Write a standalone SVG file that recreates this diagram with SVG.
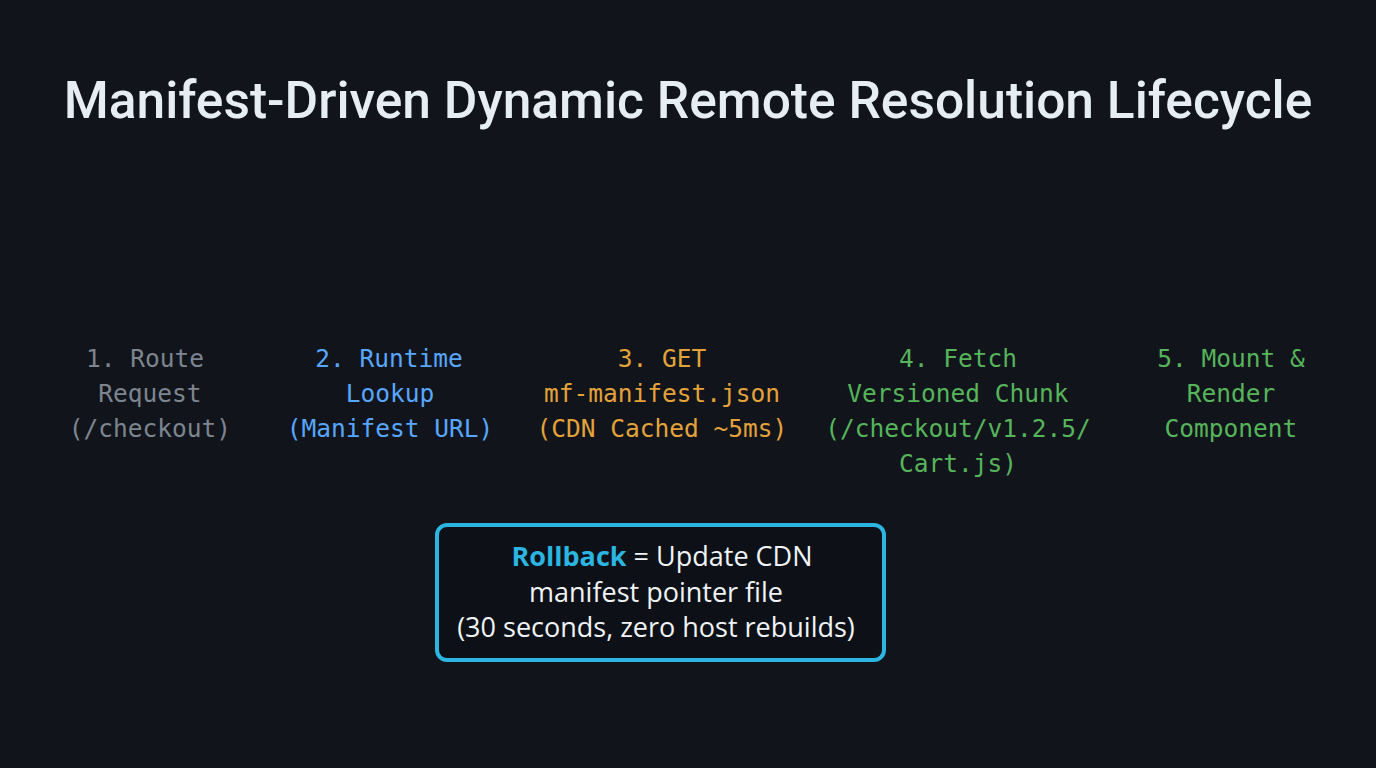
<svg xmlns="http://www.w3.org/2000/svg" width="1376" height="768" viewBox="0 0 1376 768">
<style>
.m{font-family:"DejaVu Sans Mono","Liberation Mono",monospace;font-size:24.5px;text-anchor:middle}
.s{font-family:"Open Sans","Liberation Sans",sans-serif;font-size:27px;text-anchor:middle;fill:#f0f3f6}
</style>
<rect width="1376" height="768" fill="#11151b"/>
<text x="688" y="118" font-family="Roboto,'Liberation Sans',sans-serif" font-size="51.5" font-weight="500" fill="#e6edf3" text-anchor="middle">Manifest-Driven Dynamic Remote Resolution Lifecycle</text>
<g id="step1" class="m" fill="#7d8590"><text x="145" y="367">1. Route</text><text x="150" y="402">Request</text><text x="150" y="437">(/checkout)</text></g>
<g id="step2" class="m" fill="#58a6ff"><text x="389" y="367">2. Runtime</text><text x="390" y="402">Lookup</text><text x="390" y="437">(Manifest URL)</text></g>
<g id="step3" class="m" fill="#e3a23a"><text x="662" y="367">3. GET</text><text x="662" y="402">mf-manifest.json</text><text x="662" y="437">(CDN Cached ~5ms)</text></g>
<g id="step4" class="m" fill="#56b45a"><text x="958" y="367">4. Fetch</text><text x="958" y="402">Versioned Chunk</text><text x="958" y="437">(/checkout/v1.2.5/</text><text x="958" y="472">Cart.js)</text></g>
<g id="step5" class="m" fill="#56b45a"><text x="1231" y="367">5. Mount &amp;</text><text x="1231" y="402">Render</text><text x="1231" y="437">Component</text></g>
<g id="connectors"></g>
<g id="rollback">
<rect x="437" y="525" width="447" height="135" rx="10" fill="#0d1117" stroke="#2bb5e0" stroke-width="4"/>
<text class="s" x="662" y="566" font-size="29"><tspan fill="#2bb5e0" font-weight="bold">Rollback</tspan> = Update CDN</text>
<text class="s" x="656" y="602">manifest pointer file</text>
<text class="s" x="656" y="637">(30 seconds, zero host rebuilds)</text>
</g>
</svg>
